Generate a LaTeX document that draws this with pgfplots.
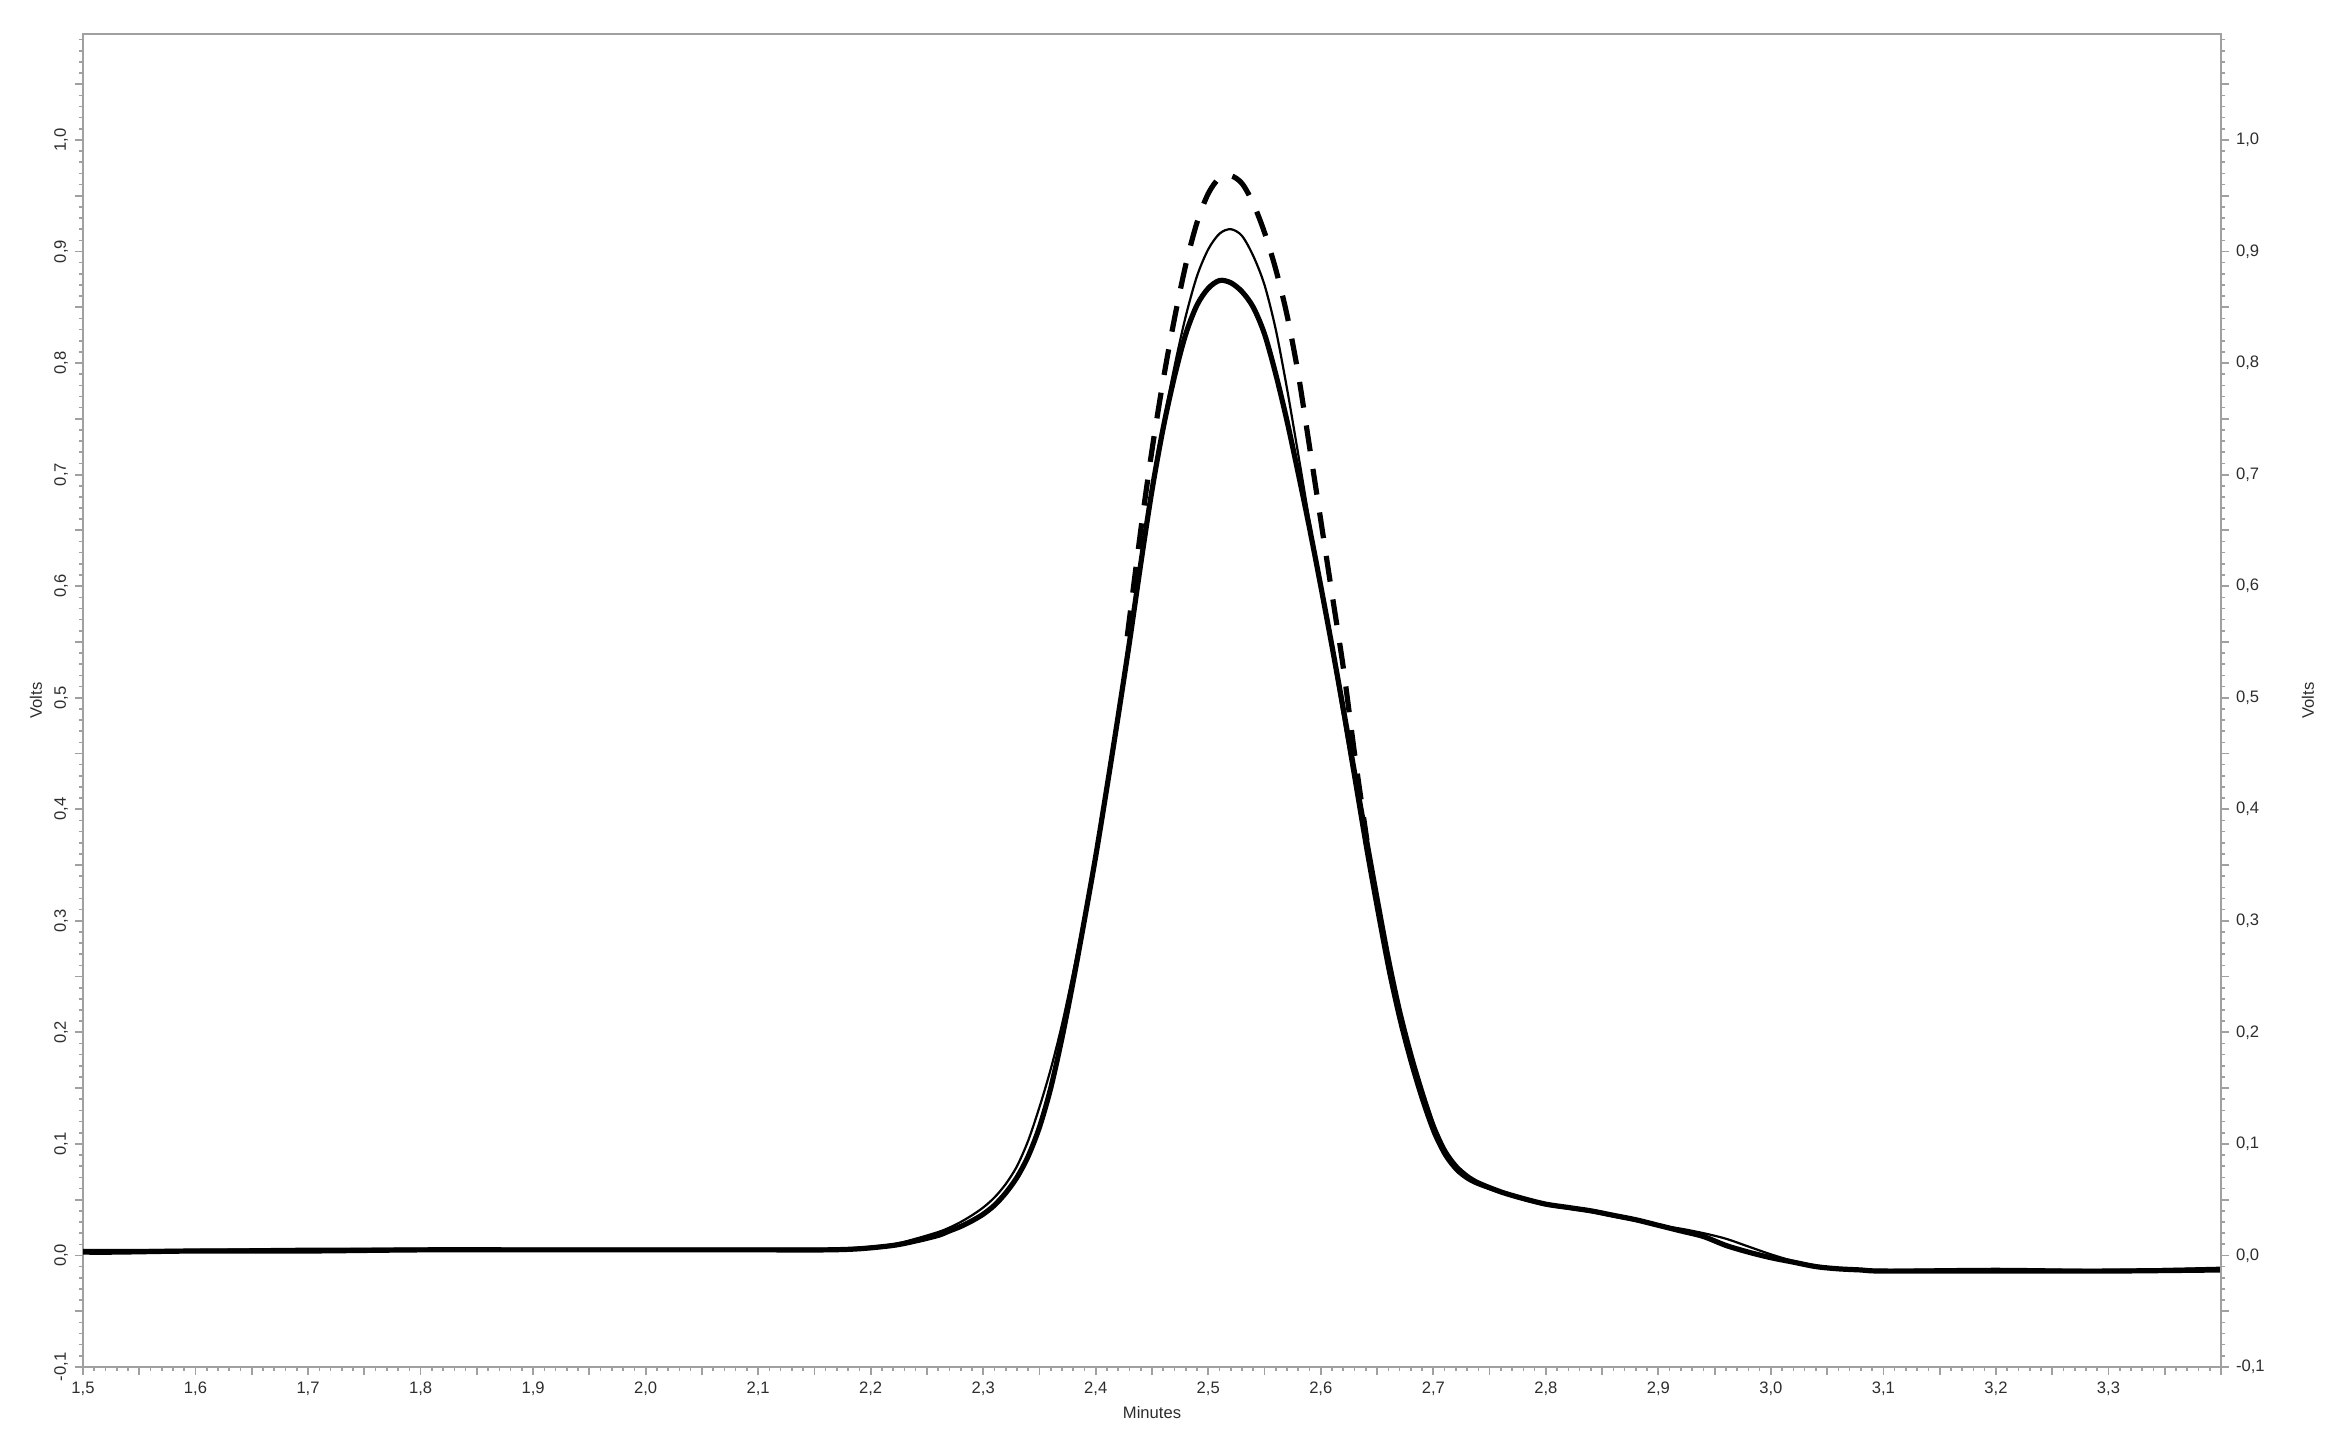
\documentclass[border=0pt]{standalone}
\usepackage{pgfplots}
\pgfplotsset{compat=1.18}
\usepackage{fontspec}
\setmainfont{Liberation Sans}
\definecolor{axgray}{RGB}{160,160,160}
\definecolor{lblgray}{RGB}{45,45,45}

\pgfplotstableread{
x y
1.50 0.003
1.53 0.003
1.60 0.004
1.70 0.004
1.80 0.005
1.90 0.005
2.00 0.005
2.10 0.005
2.16 0.005
2.19 0.006
2.22 0.009
2.24 0.013
2.26 0.018
2.27 0.022
2.28 0.026
2.29 0.031
2.30 0.037
2.31 0.045
2.32 0.056
2.33 0.070
2.34 0.089
2.35 0.115
2.36 0.150
2.37 0.195
2.38 0.246
2.39 0.301
2.40 0.358
2.41 0.420
2.42 0.484
2.43 0.550
2.44 0.620
2.45 0.686
2.46 0.742
2.47 0.788
2.48 0.826
2.49 0.852
2.50 0.867
2.51 0.874
2.52 0.872
2.53 0.864
2.54 0.850
2.55 0.826
2.56 0.790
2.57 0.748
2.58 0.701
2.59 0.652
2.60 0.600
2.61 0.546
2.62 0.490
2.63 0.433
2.64 0.376
2.65 0.320
2.66 0.266
2.67 0.219
2.68 0.180
2.69 0.146
2.70 0.116
2.71 0.094
2.72 0.080
2.73 0.071
2.74 0.065
2.76 0.057
2.78 0.051
2.80 0.046
2.82 0.043
2.84 0.040
2.86 0.036
2.88 0.032
2.90 0.027
2.92 0.022
2.94 0.017
2.96 0.009
2.98 0.003
3.00 -0.002
3.02 -0.006
3.04 -0.010
3.06 -0.012
3.08 -0.013
3.10 -0.014
3.20 -0.014
3.30 -0.014
3.40 -0.013
}\thick

\pgfplotstableread{
x y
1.50 0.005
1.60 0.005
1.70 0.006
1.80 0.006
1.90 0.006
2.00 0.006
2.10 0.006
2.16 0.006
2.19 0.007
2.22 0.010
2.24 0.015
2.26 0.021
2.27 0.025
2.28 0.030
2.29 0.036
2.30 0.043
2.31 0.052
2.32 0.064
2.33 0.080
2.34 0.103
2.35 0.133
2.36 0.167
2.37 0.207
2.38 0.254
2.39 0.305
2.40 0.361
2.41 0.422
2.42 0.486
2.43 0.551
2.44 0.622
2.45 0.688
2.46 0.745
2.47 0.797
2.48 0.842
2.49 0.878
2.50 0.902
2.51 0.916
2.52 0.920
2.53 0.914
2.54 0.896
2.55 0.870
2.56 0.830
2.57 0.777
2.58 0.718
2.59 0.658
2.60 0.600
2.61 0.542
2.62 0.482
2.63 0.422
2.64 0.362
2.65 0.306
2.66 0.253
2.67 0.208
2.68 0.170
2.69 0.137
2.70 0.109
2.71 0.089
2.72 0.076
2.73 0.068
2.74 0.063
2.76 0.056
2.78 0.050
2.80 0.045
2.82 0.042
2.84 0.039
2.86 0.035
2.88 0.031
2.90 0.027
2.92 0.024
2.94 0.020
2.96 0.015
2.98 0.008
3.00 0.001
3.02 -0.005
3.04 -0.009
3.06 -0.012
3.08 -0.013
3.10 -0.013
3.20 -0.012
3.30 -0.013
3.40 -0.011
}\thin

\pgfplotstableread{
x y
2.428 0.555
2.44 0.650
2.45 0.722
2.46 0.785
2.47 0.840
2.48 0.888
2.49 0.926
2.50 0.952
2.51 0.966
2.52 0.968
2.53 0.961
2.54 0.943
2.55 0.917
2.56 0.884
2.57 0.843
2.58 0.790
2.59 0.725
2.60 0.659
2.61 0.593
2.62 0.527
2.63 0.450
2.641 0.372
}\dashed

\pgfplotsset{
  common/.style={
    at={(0pt,0pt)}, anchor=south west, scale only axis,
    width=1069pt, height=666.5pt,
    xmin=1.5, xmax=3.4, ymin=-0.1, ymax=1.095,
    tick align=outside,
    major tick length=4pt, minor tick length=2pt,
    tick style={axgray, line width=0.9pt},
    minor tick style={axgray, line width=0.8pt},
    axis line style={axgray, line width=1.3pt},
    tick label style={font=\fontsize{8.3}{10}\selectfont, text=lblgray},
    label style={font=\fontsize{8.3}{10}\selectfont, text=lblgray},
    /pgf/number format/use comma,
    /pgf/number format/fixed,
    /pgf/number format/fixed zerofill,
    /pgf/number format/precision=1,
    /pgf/number format/assume math mode=true,
    ytick={-0.1,-0.05,0,0.05,0.1,0.15,0.2,0.25,0.3,0.35,0.4,0.45,0.5,0.55,0.6,0.65,0.7,0.75,0.8,0.85,0.9,0.95,1.0,1.05},
    minor ytick={-0.1,-0.09,...,1.095},
    yticklabel={\pgfmathtruncatemacro{\rr}{round(\tick*100)}\pgfmathtruncatemacro{\mm}{mod(\rr,10)}\ifnum\mm=0 \pgfmathprintnumber{\tick}\fi},
  }
}

\begin{document}
\begin{tikzpicture}
\path[use as bounding box] (-41.5pt,-36.5pt) rectangle (1127pt,683.5pt);
\begin{axis}[common,
  xtick pos=left, ytick pos=left,
  xtick={1.5,1.55,1.6,1.65,1.7,1.75,1.8,1.85,1.9,1.95,2.0,2.05,2.1,2.15,2.2,2.25,2.3,2.35,2.4,2.45,2.5,2.55,2.6,2.65,2.7,2.75,2.8,2.85,2.9,2.95,3.0,3.05,3.1,3.15,3.2,3.25,3.3,3.35,3.4},
  minor xtick={1.5,1.51,...,3.405},
  xticklabel={\pgfmathtruncatemacro{\rr}{round(\tick*100)}\pgfmathtruncatemacro{\mm}{mod(\rr,10)}\ifnum\mm=0 \ifnum\rr<340 \pgfmathprintnumber{\tick}\fi\fi},
  yticklabel style={rotate=90, anchor=south},
  xlabel={Minutes},
  xlabel style={at={(axis description cs:0.5,-0.0345)}, anchor=center},
  ylabel={Volts},
  ylabel style={at={(axis description cs:-0.022,0.5)}, anchor=center, rotate=0},
]
\addplot[black, line width=2.6pt, dash pattern=on 13pt off 9pt, smooth, line join=round] table[x=x,y=y] {\dashed};
\addplot[black, line width=1.1pt, smooth, line join=round] table[x=x,y=y] {\thin};
\addplot[black, line width=2.6pt, smooth, line join=round] table[x=x,y=y] {\thick};
\end{axis}
\begin{axis}[common,
  axis x line=none, axis y line*=right,
  ytick pos=right, yticklabel pos=right,
  yticklabel style={anchor=west},
  ylabel={Volts},
  ylabel style={at={(axis description cs:1.0407,0.5)}, anchor=center},
]
\end{axis}
\end{tikzpicture}
\end{document}
